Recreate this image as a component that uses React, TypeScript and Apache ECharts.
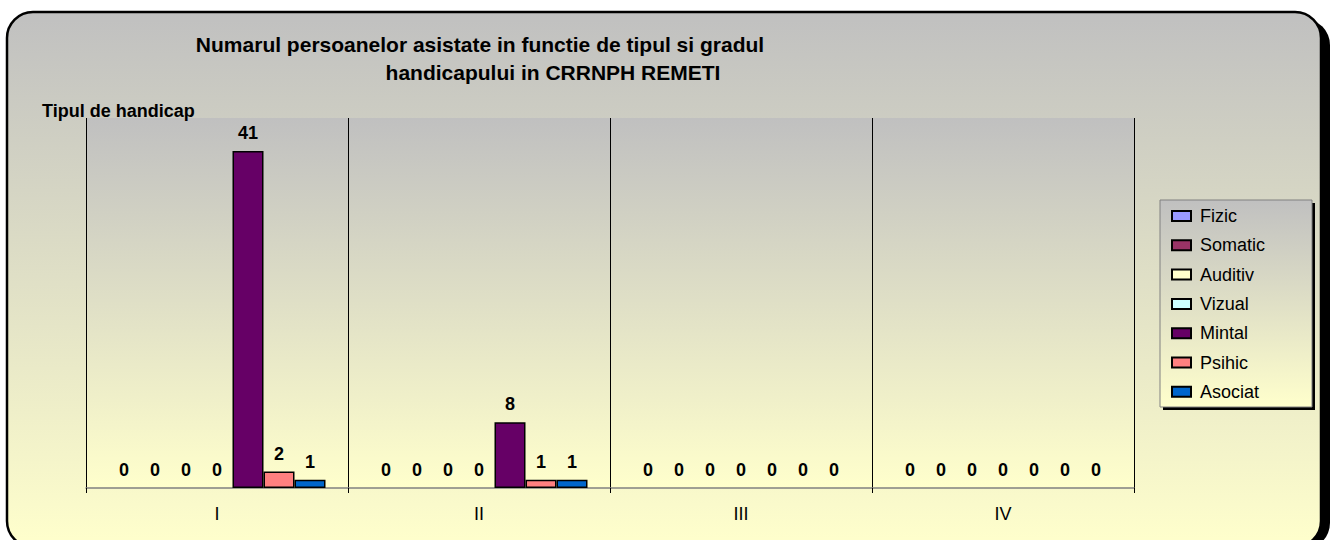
import React, { useEffect, useRef } from "react";
import * as echarts from "echarts";

const categories = ["I", "II", "III", "IV"];
const seriesNames = ["Fizic", "Somatic", "Auditiv", "Vizual", "Mintal", "Psihic", "Asociat"];
const seriesColors = ["#9999ff", "#993366", "#ffffcc", "#ccffff", "#660066", "#ff8080", "#0066cc"];
const fizic = [0, 0, 0, 0];
const somatic = [0, 0, 0, 0];
const auditiv = [0, 0, 0, 0];
const vizual = [0, 0, 0, 0];
const mintal = [41, 8, 0, 0];
const psihic = [2, 1, 0, 0];
const asociat = [1, 1, 0, 0];
const seriesValues = [fizic, somatic, auditiv, vizual, mintal, psihic, asociat];
const titleLine1 = "Numarul persoanelor asistate in functie de tipul si gradul";
const titleLine2 = "handicapului in CRRNPH REMETI";
const yAxisName = "Tipul de handicap";

const FONT = '"Liberation Sans", Arial, sans-serif';

const grad = () =>
  new echarts.graphic.LinearGradient(0, 0, 0, 1, [
    { offset: 0, color: "#c0c0c0" },
    { offset: 1, color: "#ffffcc" },
  ]);

export default function App() {
  const ref = useRef<HTMLDivElement>(null);
  useEffect(() => {
    if (!ref.current) return;
    const chart = echarts.init(ref.current, undefined, { renderer: "svg" });
    const series = seriesNames.map((name, i) => ({
      name,
      type: "bar",
      barWidth: 31,
      barGap: "0%",
      itemStyle: { color: seriesColors[i], borderColor: "#000", borderWidth: 1.5 },
      label: {
        show: true,
        position: "top",
        distance: 9,
        color: "#000",
        fontWeight: "bold",
        fontSize: 18,
        fontFamily: FONT,
      },
      data: seriesValues[i].map((v) =>
        v === 0 ? { value: v, itemStyle: { borderWidth: 0 } } : { value: v }
      ),
    }));
    chart.setOption({
      animation: false,
      graphic: [
        {
          type: "rect",
          z: -20,
          shape: { x: 15, y: 19, width: 1315, height: 530, r: 26 },
          style: { fill: "#000" },
        },
        {
          type: "rect",
          z: -19,
          shape: { x: 7, y: 12, width: 1314, height: 535, r: 26 },
          style: { fill: grad(), stroke: "#000", lineWidth: 2.5 },
        },
        {
          type: "rect",
          z: -18,
          shape: { x: 86, y: 118, width: 1048, height: 370 },
          style: { fill: grad() },
        },
        {
          type: "rect",
          z: -17,
          shape: { x: 1163, y: 203, width: 152, height: 207 },
          style: { fill: "#000" },
        },
        {
          type: "rect",
          z: -16,
          shape: { x: 1160, y: 200, width: 152, height: 207 },
          style: { fill: grad(), stroke: "#808080", lineWidth: 1 },
        },
        {
          type: "text",
          z: 10,
          x: 480,
          y: 44,
          style: {
            text: titleLine1,
            font: `bold 21px ${FONT}`,
            fill: "#000",
            textAlign: "center",
            textVerticalAlign: "middle",
          },
        },
        {
          type: "text",
          z: 10,
          x: 553,
          y: 72,
          style: {
            text: titleLine2,
            font: `bold 21px ${FONT}`,
            fill: "#000",
            textAlign: "center",
            textVerticalAlign: "middle",
          },
        },
        {
          type: "text",
          z: 10,
          x: 42,
          y: 111,
          style: {
            text: yAxisName,
            font: `bold 18px ${FONT}`,
            fill: "#000",
            textAlign: "left",
            textVerticalAlign: "middle",
          },
        },
      ],
      legend: {
        orient: "vertical",
        left: 1171,
        top: 206,
        padding: 0,
        itemWidth: 19,
        itemHeight: 10,
        itemGap: 9.3,
        icon: "rect",
        itemStyle: { borderColor: "#000", borderWidth: 2 },
        textStyle: {
          color: "#000",
          fontSize: 18,
          fontFamily: FONT,
          lineHeight: 20,
          padding: [0, 0, 0, 4],
        },
        data: seriesNames,
      },
      grid: { left: 86, right: 198, top: 118, bottom: 52, containLabel: false },
      xAxis: {
        type: "category",
        data: categories,
        axisLine: { show: true, lineStyle: { color: "#808080", width: 1.5 } },
        axisTick: { show: true, length: 5, lineStyle: { color: "#000" } },
        axisLabel: { color: "#000", fontSize: 18, fontFamily: FONT, margin: 17 },
        splitLine: { show: true, lineStyle: { color: "#000", width: 1 } },
      },
      yAxis: {
        type: "value",
        min: 0,
        max: 45,
        interval: 5,
        show: false,
        splitLine: { show: false },
      },
      series,
    });
    return () => chart.dispose();
  }, []);
  return (
    <div
      ref={ref}
      style={{ position: "absolute", left: 0, top: 0, width: 1332, height: 540 }}
    />
  );
}
